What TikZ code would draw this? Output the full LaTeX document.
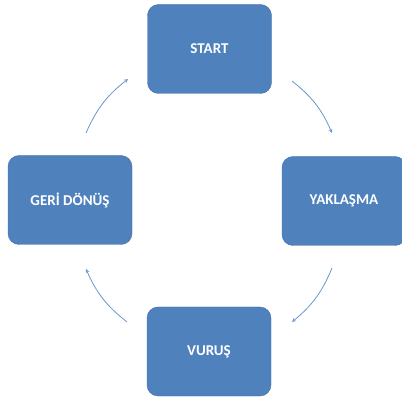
\documentclass[tikz,border=0pt]{standalone}
\usepackage{fontspec}
\setmainfont{Carlito}
\usetikzlibrary{positioning, arrows}

\definecolor{boxblue}{RGB}{79,129,189}
\definecolor{boxedge}{RGB}{65,113,170}
\definecolor{arrowblue}{RGB}{105,150,206}

\begin{document}
\begin{tikzpicture}[x=1pt, y=-1pt,
        stage/.style={draw=boxedge, fill=boxblue, rounded corners=11pt,
            minimum width=124pt, minimum height=89pt, text=white,
            font=\bfseries\fontsize{15}{18}\selectfont},
        cycle arrow/.style={arrowblue, line width=0.8pt, -stealth, bend left=14}]
        \useasboundingbox (0,0) rectangle (402,398);

        \node[stage] (start) at (209.5,49) {START};
        \node[stage] (yaklasma) at (344,201) {YAKLAŞMA};
        \node[stage] (vurus) at (209,351.5) {VURUŞ};
        \node[stage] (geri) at (70,200) {GERİ DÖNÜŞ};

        % free ends of the arrows round the cycle
        \coordinate (a1) at (292,81);
        \coordinate (b1) at (332,133);
        \coordinate (a2) at (332,268);
        \coordinate (b2) at (292,322);
        \coordinate (a3) at (127,322);
        \coordinate (b3) at (86,269);
        \coordinate (a4) at (86,133);
        \coordinate (b4) at (128,79);

        \foreach \i in {1,2,3,4}
        {
        \draw[cycle arrow] (a\i) to (b\i);
        }
    \end{tikzpicture}
\end{document}
